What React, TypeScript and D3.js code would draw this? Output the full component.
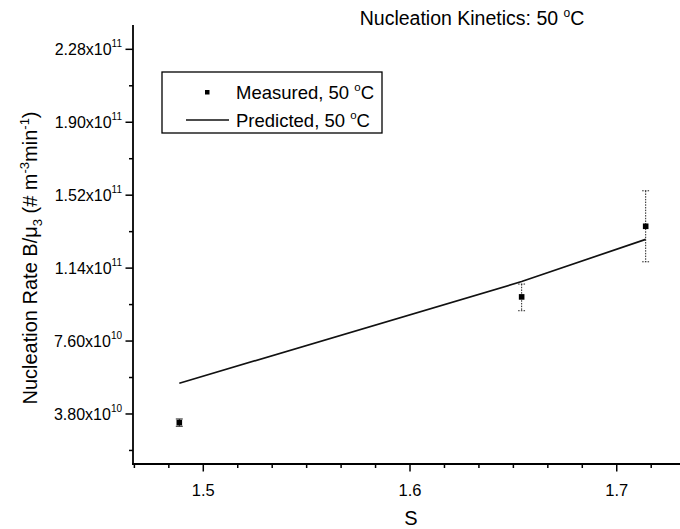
import React from "react";
import * as d3 from "d3";

const sValues = [1.4884, 1.654, 1.714];
const measured = [3.35e10, 9.9e10, 1.358e11];
const errLow = [0.19e10, 0.72e10, 1.85e10];
const errHigh = [0.19e10, 0.67e10, 1.85e10];
const predictedS = [1.4884, 1.654, 1.714];
const predicted = [5.4e10, 1.07e11, 1.29e11];
const yTickMantissa = ["3.80", "7.60", "1.14", "1.52", "1.90", "2.28"];
const yTickExp = ["10", "10", "11", "11", "11", "11"];
const yTickValues = [3.8e10, 7.6e10, 1.14e11, 1.52e11, 1.9e11, 2.28e11];
const xTickValues = [1.5, 1.6, 1.7];
const xTickLabels = ["1.5", "1.6", "1.7"];

const W = 680;
const H = 529;
const FONT = "'Liberation Sans', Arial, Helvetica, sans-serif";

export default function App() {
  const x = d3.scaleLinear().domain([1.466, 1.7306]).range([133, 680]);
  const y = d3.scaleLinear().domain([1.194e10, 2.4067e11]).range([464, 25]);
  const x0 = 133;
  const y0 = 464;

  const minorX = d3
    .range(-2, 16)
    .map((k) => 1.5 + k * (0.1 / 6))
    .filter(
      (v) =>
        v >= 1.4659 &&
        v <= 1.7306 &&
        Math.abs((v - 1.5) / 0.1 - Math.round((v - 1.5) / 0.1)) > 1e-6
    );
  const minorY = d3.range(0, 6).map((k) => 1.9e10 + k * 3.8e10);

  const line = d3
    .line<number>()
    .x((_, i) => x(predictedS[i]))
    .y((d) => y(d));

  const cap = 3.5;

  return (
    <svg
      width={W}
      height={H}
      style={{ position: "absolute", left: 0, top: 0, background: "#fff" }}
      fontFamily={FONT}
    >
      <rect x={0} y={0} width={W} height={H} fill="#fff" />
      {/* title */}
      <text x={472} y={25} fontSize={19.5} textAnchor="middle" fill="#000">
        Nucleation Kinetics: 50 <tspan dy={-8} fontSize={12}>o</tspan>
        <tspan dy={8}>C</tspan>
      </text>

      {/* axes */}
      <line x1={x0} y1={25} x2={x0} y2={y0 + 1} stroke="#000" strokeWidth={1.8} />
      <line x1={x0 - 1} y1={y0} x2={680} y2={y0} stroke="#000" strokeWidth={1.8} />

      {/* y ticks */}
      {yTickValues.map((v, i) => (
        <g key={"yt" + i}>
          <line x1={x0 - 7.5} x2={x0} y1={y(v)} y2={y(v)} stroke="#000" strokeWidth={1.5} />
          <text x={x0 - 11} y={y(v) + 6} fontSize={16} textAnchor="end" fill="#000">
            {yTickMantissa[i]}x10
            <tspan fontSize={10} dy={-8}>
              {yTickExp[i]}
            </tspan>
          </text>
        </g>
      ))}
      {minorY.map((v, i) => (
        <line key={"ym" + i} x1={x0 - 4} x2={x0} y1={y(v)} y2={y(v)} stroke="#000" strokeWidth={1.5} />
      ))}

      {/* x ticks */}
      {xTickValues.map((v, i) => (
        <g key={"xt" + i}>
          <line x1={x(v)} x2={x(v)} y1={y0} y2={y0 + 7.5} stroke="#000" strokeWidth={1.5} />
          <text x={x(v)} y={y0 + 32} fontSize={16.5} textAnchor="middle" fill="#000">
            {xTickLabels[i]}
          </text>
        </g>
      ))}
      {minorX.map((v, i) => (
        <line key={"xm" + i} x1={x(v)} x2={x(v)} y1={y0} y2={y0 + 4} stroke="#000" strokeWidth={1.5} />
      ))}

      {/* axis titles */}
      <text x={411} y={525} fontSize={20} textAnchor="middle" fill="#000">
        S
      </text>
      <text transform={`translate(37, 258) rotate(-90)`} fontSize={20} textAnchor="middle" fill="#000">
        Nucleation Rate B/μ<tspan fontSize={13} dy={5}>3</tspan>
        <tspan dy={-5}> (# m</tspan>
        <tspan fontSize={13} dy={-8}>-3</tspan>
        <tspan dy={8}>min</tspan>
        <tspan fontSize={13} dy={-8}>-1</tspan>
        <tspan dy={8}>)</tspan>
      </text>

      {/* predicted */}
      <path d={line(predicted) || ""} fill="none" stroke="#111" strokeWidth={1.7} />

      {/* measured with error bars */}
      {measured.map((v, i) => {
        const cx = x(sValues[i]);
        const top = y(v + errHigh[i]);
        const bot = y(v - errLow[i]);
        const dash = i === 0 ? undefined : "1.5,1.2";
        return (
          <g key={"m" + i}>
            <line x1={cx} x2={cx} y1={top} y2={bot} stroke="#222" strokeWidth={1} strokeDasharray={dash} />
            <line x1={cx - cap} x2={cx + cap} y1={top} y2={top} stroke="#222" strokeWidth={1} strokeDasharray={dash} />
            <line x1={cx - cap} x2={cx + cap} y1={bot} y2={bot} stroke="#222" strokeWidth={1} strokeDasharray={dash} />
            <rect x={cx - 2.8} y={y(v) - 2.8} width={5.6} height={5.6} fill="#000" />
          </g>
        );
      })}

      {/* legend */}
      <rect x={162} y={72} width={220} height={61} fill="#fff" stroke="#000" strokeWidth={1.3} />
      <rect x={205} y={90} width={4.5} height={4.5} fill="#000" />
      <text x={236} y={99} fontSize={18.5} fill="#000">
        Measured, 50 <tspan dy={-8} fontSize={11.5}>o</tspan>
        <tspan dy={8}>C</tspan>
      </text>
      <line x1={186} x2={229} y1={120} y2={120} stroke="#111" strokeWidth={1.7} />
      <text x={236} y={127} fontSize={18.5} fill="#000">
        Predicted, 50 <tspan dy={-8} fontSize={11.5}>o</tspan>
        <tspan dy={8}>C</tspan>
      </text>
    </svg>
  );
}
